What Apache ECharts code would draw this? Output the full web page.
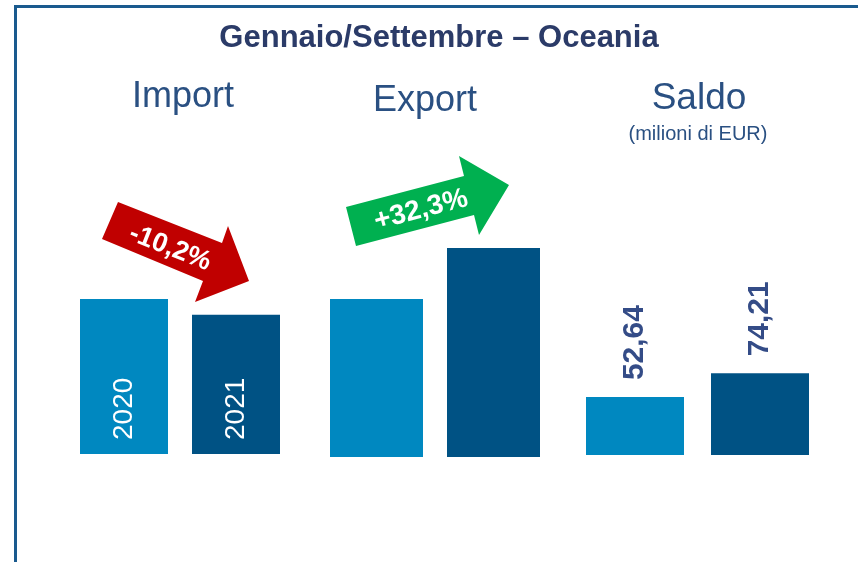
<!DOCTYPE html>
<html>
<head>
<meta charset="utf-8">
<script src="https://cdn.jsdelivr.net/npm/echarts@6/dist/echarts.min.js"></script>
<style>
  html, body { margin: 0; padding: 0; background: #ffffff; }
  #chart { width: 858px; height: 562px; }
</style>
</head>
<body>
<div id="chart"></div>
<script>
// Periods compared in every group
const years = ['2020', '2021'];
// Import and export bars (relative scale, Jan–Sep)
const importValues = [155.0, 139.2];
const exportValues = [158.0, 209.0];
// Trade balance, million EUR
const saldoValues = [52.64, 74.21];
// Year-on-year changes shown on the arrows
const importChange = '-10,2%';
const exportChange = '+32,3%';

const FONT = '"Liberation Sans", Arial, sans-serif';
const barColors = ['#0088C0', '#005284'];
const navy = '#2B3B68';
const headColor = '#2A5082';

const chart = echarts.init(document.getElementById('chart'), null, { renderer: 'canvas' });

const fmtComma = v => v.toFixed(2).replace('.', ',');

function axisPair(gridIndex, max) {
  return {
    x: { type: 'category', gridIndex, data: years, show: false },
    y: { type: 'value', gridIndex, min: 0, max, show: false }
  };
}

const axes = [axisPair(0, 200), axisPair(1, 250), axisPair(2, 100)];

function colorByIndex(p) { return barColors[p.dataIndex]; }

const option = {
  backgroundColor: '#ffffff',
  animation: false,
  grid: [
    { left: 68, width: 224, top: 254, height: 200 },
    { left: 318, width: 234, top: 207, height: 250 },
    { left: 572.5, width: 250, top: 345, height: 110 }
  ],
  xAxis: axes.map(a => a.x),
  yAxis: axes.map(a => a.y),
  series: [
    {
      type: 'bar', xAxisIndex: 0, yAxisIndex: 0, barWidth: 88,
      data: importValues,
      itemStyle: { color: colorByIndex },
      label: {
        show: true, position: 'insideBottom', distance: 14, rotate: 90,
        align: 'left', verticalAlign: 'middle',
        formatter: p => years[p.dataIndex],
        color: '#ffffff', fontFamily: FONT, fontSize: 28
      }
    },
    {
      type: 'bar', xAxisIndex: 1, yAxisIndex: 1, barWidth: 93,
      data: exportValues,
      itemStyle: { color: colorByIndex }
    },
    {
      type: 'bar', xAxisIndex: 2, yAxisIndex: 2, barWidth: 98,
      data: saldoValues,
      itemStyle: { color: colorByIndex },
      label: {
        show: true, position: 'top', distance: 17, rotate: 90,
        align: 'left', verticalAlign: 'middle',
        formatter: p => fmtComma(p.value),
        color: '#344C87', fontFamily: FONT, fontSize: 30, fontWeight: 'bold'
      }
    }
  ],
  graphic: [
    // frame lines
    { type: 'line', shape: { x1: 15.5, y1: 6.5, x2: 858, y2: 6.5 }, style: { stroke: '#1A5A8E', lineWidth: 3 } },
    { type: 'line', shape: { x1: 15.5, y1: 5, x2: 15.5, y2: 562 }, style: { stroke: '#1A5A8E', lineWidth: 3 } },
    // title and group headings
    { type: 'text', x: 439, y: 38, style: { text: 'Gennaio/Settembre – Oceania', fill: navy, font: 'bold 31px ' + FONT, align: 'center', verticalAlign: 'middle' } },
    { type: 'text', x: 183, y: 97, style: { text: 'Import', fill: headColor, font: '36px ' + FONT, align: 'center', verticalAlign: 'middle' } },
    { type: 'text', x: 425, y: 101, style: { text: 'Export', fill: headColor, font: '36px ' + FONT, align: 'center', verticalAlign: 'middle' } },
    { type: 'text', x: 699, y: 99, style: { text: 'Saldo', fill: headColor, font: '37px ' + FONT, align: 'center', verticalAlign: 'middle' } },
    { type: 'text', x: 698, y: 134, style: { text: '(milioni di EUR)', fill: headColor, font: '20px ' + FONT, align: 'center', verticalAlign: 'middle' } },
    // red arrow (import change)
    { type: 'polygon', shape: { points: [[118, 202], [222, 243], [228, 226], [249, 281], [195, 302], [203, 281], [102, 239]] }, style: { fill: '#C00000' } },
    { type: 'text', x: 170, y: 248, rotation: -0.375, style: { text: importChange, fill: '#ffffff', font: 'bold 27px ' + FONT, align: 'center', verticalAlign: 'middle' } },
    // green arrow (export change)
    { type: 'polygon', shape: { points: [[346, 207], [464, 176], [459, 156], [509, 185], [479, 235], [474, 215], [356, 246]] }, style: { fill: '#00B050' } },
    { type: 'text', x: 421, y: 210, rotation: 0.257, style: { text: exportChange, fill: '#ffffff', font: 'bold 28px ' + FONT, align: 'center', verticalAlign: 'middle' } }
  ]
};

chart.setOption(option);
</script>
</body>
</html>
